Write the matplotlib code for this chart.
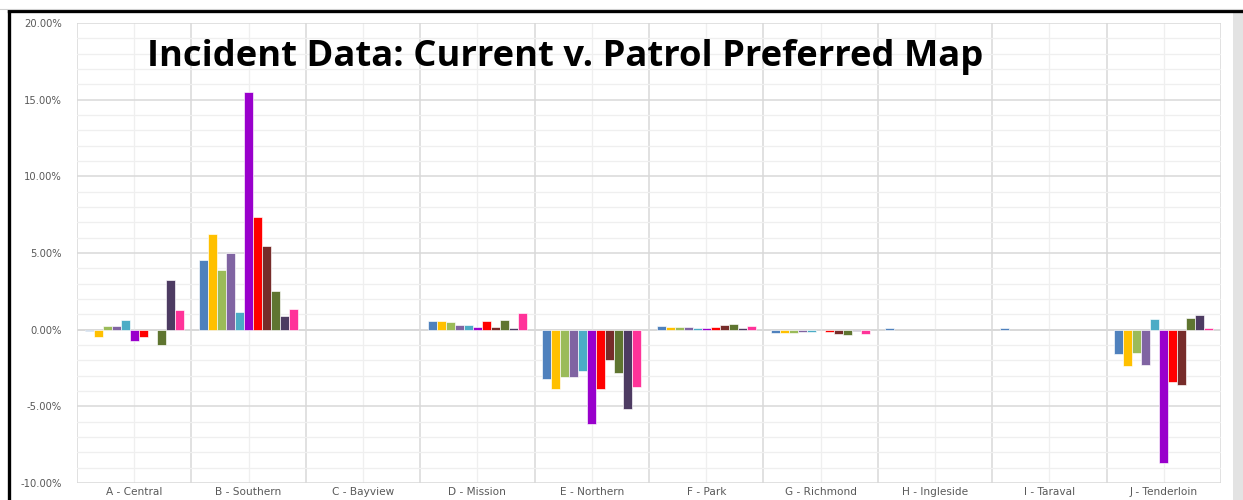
import matplotlib
matplotlib.use("Agg")
import matplotlib.pyplot as plt
from matplotlib.ticker import MultipleLocator, FuncFormatter
import numpy as np

districts = ["A - Central", "B - Southern", "C - Bayview", "D - Mission", "E - Northern",
             "F - Park", "G - Richmond", "H - Ingleside", "I - Taraval", "J - Tenderloin"]

# percentage change per district for each of the eleven series
s01 = [-0.10, 4.57, 0.0, 0.54, -3.24, 0.26, -0.24, 0.12, 0.10, -1.59]
s02 = [-0.50, 6.26, 0.0, 0.54, -3.89, 0.17, -0.24, 0.0, 0.0, -2.39]
s03 = [0.26, 3.91, 0.0, 0.48, -3.09, 0.17, -0.24, 0.0, 0.0, -1.52]
s04 = [0.26, 5.00, 0.0, 0.33, -3.09, 0.20, -0.15, 0.0, 0.0, -2.33]
s05 = [0.60, 1.13, 0.0, 0.33, -2.67, 0.11, -0.17, 0.0, 0.0, 0.70]
s06 = [-0.74, 15.52, 0.0, 0.20, -6.17, 0.11, 0.0, 0.0, 0.0, -8.70]
s07 = [-0.46, 7.35, 0.0, 0.54, -3.89, 0.17, -0.15, 0.0, 0.0, -3.39]
s08 = [0.0, 5.48, 0.0, 0.20, -1.96, 0.33, -0.30, 0.0, 0.0, -3.61]
s09 = [-1.02, 2.54, 0.0, 0.61, -2.80, 0.39, -0.37, 0.0, 0.0, 0.76]
s10 = [3.26, 0.91, 0.0, 0.13, -5.17, 0.11, -0.11, 0.0, 0.0, 0.98]
s11 = [1.26, 1.33, 0.0, 1.11, -3.74, 0.26, -0.30, 0.0, 0.0, 0.11]

series = [s01, s02, s03, s04, s05, s06, s07, s08, s09, s10, s11]
colors = ["#4F81BD", "#FFC000", "#9BBB59", "#8064A2", "#4BACC6", "#9900CC",
          "#FF0000", "#772C2A", "#5F7530", "#4D3B62", "#FF3399"]

fig = plt.figure(figsize=(12.43, 5.0), dpi=100)
fig.patch.set_facecolor("white")

# frame decorations: black outline and grey strip on the right
W, H = 1243, 500
fig.add_artist(plt.Rectangle((1233 / W, 0), 10 / W, 488 / H, transform=fig.transFigure,
                             facecolor="#E3E3E3", edgecolor="none", zorder=0))
fig.add_artist(plt.Line2D([8.5 / W, 1], [1 - 11 / H, 1 - 11 / H], transform=fig.transFigure,
                          color="black", lw=2.4))
fig.add_artist(plt.Line2D([8.5 / W, 8.5 / W], [0, 1 - 11 / H], transform=fig.transFigure,
                          color="black", lw=2.4))
fig.add_artist(plt.Line2D([0, 1], [1 - 9 / H, 1 - 9 / H], transform=fig.transFigure,
                          color="#D0D0D0", lw=0.8))

ax = fig.add_axes([77 / W, 1 - 483 / H, (1221 - 77) / W, (483 - 23) / H])

n = len(series)
group = 0.866
bw = group / n
x = np.arange(len(districts))
for i, (vals, c) in enumerate(zip(series, colors)):
    offs = -group / 2 + bw * (i + 0.5)
    v = np.asarray(vals, dtype=float)
    keep = v != 0
    ax.bar(x[keep] + offs, v[keep], width=bw, color=c, edgecolor="white",
           linewidth=0.45, zorder=3)

ax.set_xlim(-0.5, len(districts) - 0.5)
ax.set_ylim(-10, 20)
ax.yaxis.set_major_locator(MultipleLocator(5))
ax.yaxis.set_minor_locator(MultipleLocator(1))
ax.yaxis.set_major_formatter(FuncFormatter(lambda v, p: f"{v:.2f}%"))

ax.set_xticks(x)
ax.set_xticklabels(districts)
ax.set_xticks(np.arange(-0.5, len(districts), 1.0), minor=True)

ax.grid(which="major", axis="y", color="#D9D9D9", lw=1.1, zorder=0)
ax.grid(which="minor", axis="y", color="#EFEFEF", lw=0.9, zorder=0)
ax.grid(which="major", axis="x", color="#EFEFEF", lw=0.9, zorder=0)
ax.grid(which="minor", axis="x", color="#D9D9D9", lw=1.1, zorder=0)
ax.axhline(0, color="#D9D9D9", lw=1.3, zorder=1)

for s in ax.spines.values():
    s.set_visible(False)
ax.tick_params(which="both", length=0)
ax.tick_params(axis="y", labelsize=7.2, labelcolor="#595959", pad=11)
ax.tick_params(axis="x", labelsize=7.6, labelcolor="#595959", pad=3)

fig.text(565 / W, 1 - 57 / H, "Incident Data: Current v. Patrol Preferred Map",
         ha="center", va="center", fontsize=26.2, fontweight="bold",
         family=["Open Sans", "DejaVu Sans"], color="black")

fig.savefig("out.png", dpi=100)
